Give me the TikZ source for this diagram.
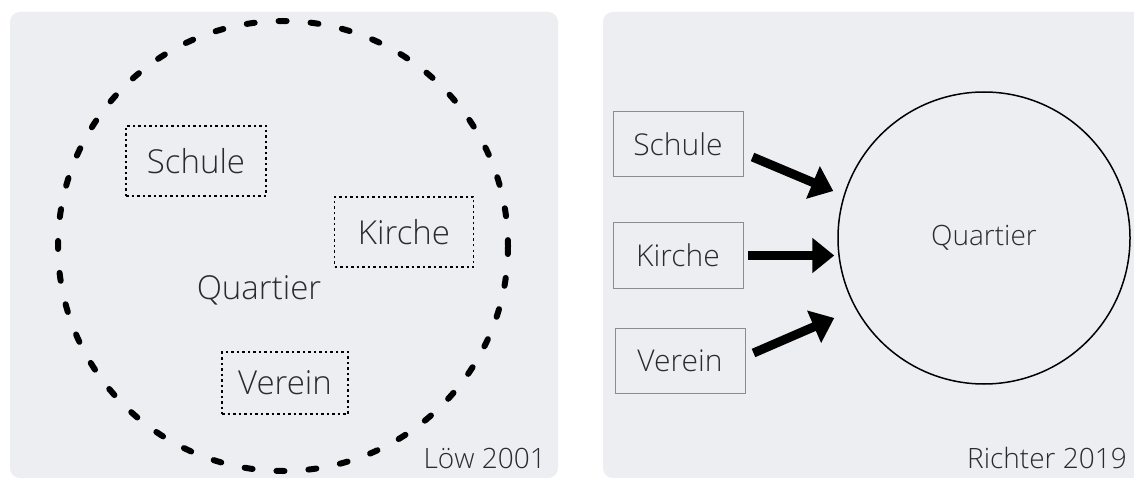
\documentclass[tikz,border=0pt]{standalone}
\usepackage{fontspec}
\IfFontExistsTF{Open Sans Light}{\setmainfont{Open Sans Light}}{\setmainfont{Open Sans}}
\usetikzlibrary{arrows.meta}
\definecolor{panelbg}{HTML}{ECEEF1}
\definecolor{txt}{HTML}{2B2B2B}
\definecolor{boxgray}{HTML}{8C8C8C}
\tikzset{
  panel/.style={fill=panelbg, draw=none, rounded corners=10pt},
  dotbox/.style={draw=black, line width=1.6pt, dash pattern=on 2.5pt off 3pt, minimum width=#1, inner sep=0pt, text=txt, font=\fontsize{33}{38}\selectfont},
  solidbox/.style={draw=boxgray, line width=1pt, minimum width=130pt, minimum height=65pt, inner sep=0pt, text=txt, font=\fontsize{30}{36}\selectfont},
  bigarrow/.style={line width=9pt, -{Triangle[length=22pt,width=34pt]}},
  credit/.style={anchor=base east, text=txt, inner sep=0pt, font=\fontsize{28}{32}\selectfont}
}
\begin{document}
\begin{tikzpicture}[x=1pt,y=-1pt]
\useasboundingbox (0,0) rectangle (1134,478);
\clip (0,0) rectangle (1134,478);
\fill[white] (0,0) rectangle (1134,478);
% panels
\path[panel] (10,12) rectangle (558,478);
\path[panel] (603,12) rectangle (1150,478);
% left panel
\draw[line width=6pt, line cap=round, dash pattern=on 8pt off 24pt] (283,246) circle[radius=225];
\node[dotbox=140pt, minimum height=70pt] (s1) at (196,161) {Schule};
\node[dotbox=139pt, minimum height=70pt] (k1) at (404,232) {Kirche};
\node[dotbox=126pt, minimum height=62pt] (v1) at (285,383) {Verein};
\node[text=txt, font=\fontsize{33}{38}\selectfont] (q1) at (259,290) {Quartier};
\node[credit] (c1) at (546,468) {Löw 2001};
% right panel
\node[solidbox] (s2) at (678,144.5) {Schule};
\node[solidbox] (k2) at (678,255.5) {Kirche};
\node[solidbox] (v2) at (680,360.5) {Verein};
\node[circle, draw=black, line width=1.5pt, minimum size=292pt, inner sep=0pt, text=txt, font=\fontsize{28}{32}\selectfont] (q2) at (984,238) {Quartier};
\draw[bigarrow] ([shift={(9,12.5)}]s2.east) -- ([shift={(-4,-47)}]q2.west);
\draw[bigarrow] ([shift={(4,0)}]k2.east) -- ([shift={(-3,17.5)}]q2.west);
\draw[bigarrow] ([shift={(8,-7.5)}]v2.east) -- ([shift={(-3,80)}]q2.west);
\node[credit] (c2) at (1127,468) {Richter 2019};
\end{tikzpicture}
\end{document}
